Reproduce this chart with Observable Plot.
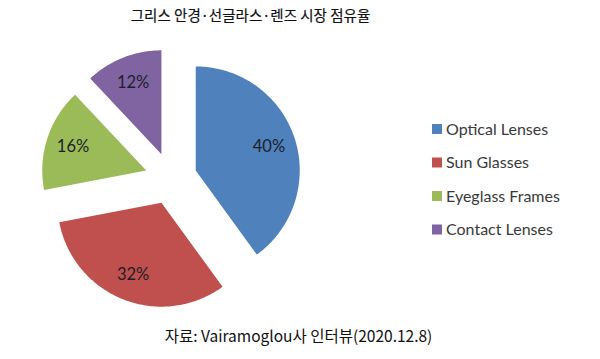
<!DOCTYPE html>
<html>
<head>
<meta charset="utf-8">
<script src="https://cdn.jsdelivr.net/npm/d3@7"></script>
<script src="https://cdn.jsdelivr.net/npm/@observablehq/plot@0.6"></script>
<style>
  html, body { margin: 0; padding: 0; background: #fff; }
  #chart svg { display: block; }
</style>
</head>
<body>
<div id="chart"></div>
<script>
// ---- data ----
const categories = ["Optical Lenses", "Sun Glasses", "Eyeglass Frames", "Contact Lenses"];
const shares = [40, 32, 16, 12];
const labels = ["40%", "32%", "16%", "12%"];
const colors = ["#4F81BD", "#C0504D", "#9BBB59", "#8064A2"];
const title = "그리스 안경·선글라스·렌즈 시장 점유율";
const caption = "자료: Vairamoglou사 인터뷰(2020.12.8)";

// ---- layout ----
const W = 600, H = 359;
const cx = 170.5, cy = 178, R = 104, explode = 26, labelDist = 77;

const total = d3.sum(shares);
const slices = [];
let acc = 0;
categories.forEach((c, i) => {
  const a0 = acc / total * 2 * Math.PI;
  acc += shares[i];
  const a1 = acc / total * 2 * Math.PI;
  const am = (a0 + a1) / 2;
  slices.push({cat: c, i, a0, a1, am,
    ox: cx + explode * Math.sin(am), oy: cy - explode * Math.cos(am)});
});

// polygon points for each wedge
const pts = [];
for (const s of slices) {
  pts.push({cat: s.cat, x: s.ox, y: s.oy});
  const n = Math.max(2, Math.ceil((s.a1 - s.a0) / (Math.PI / 180)));
  for (let k = 0; k <= n; k++) {
    const a = s.a0 + (s.a1 - s.a0) * k / n;
    pts.push({cat: s.cat, x: s.ox + R * Math.sin(a), y: s.oy - R * Math.cos(a)});
  }
  pts.push({cat: s.cat, x: s.ox, y: s.oy});
}

const labelPts = slices.map(s => ({
  text: labels[s.i],
  x: s.ox + labelDist * Math.sin(s.am),
  y: s.oy - labelDist * Math.cos(s.am)
}));

const legX = 432, legY0 = 129, legStep = 33.5, sq = 10;
const legend = categories.map((c, i) => ({cat: c, y: legY0 + i * legStep}));

const chart = Plot.plot({
  width: W, height: H,
  margin: 0,
  x: {domain: [0, W], range: [0, W], axis: null},
  y: {domain: [0, H], range: [0, H], axis: null},
  color: {domain: categories, range: colors},
  style: {background: "#fff"},
  marks: [
    Plot.line(pts, {x: "x", y: "y", z: "cat", fill: "cat", stroke: "none", curve: "linear"}),
    Plot.text(labelPts, {x: "x", y: "y", text: "text", fill: "#1c1e2a",
      fontSize: 16.5, fontFamily: "Lato, 'Open Sans', sans-serif"}),
    Plot.rect(legend, {x1: legX, x2: legX + sq, y1: d => d.y - sq / 2, y2: d => d.y + sq / 2, fill: "cat"}),
    Plot.text(legend, {x: legX + sq + 3.5, y: "y", text: "cat", textAnchor: "start",
      fill: "#3a3a3a", fontSize: 16, fontFamily: "Lato, 'Open Sans', sans-serif"}),
    Plot.text([title], {x: 250, y: 16, text: d => d, fill: "#111",
      fontSize: 14.5, fontFamily: "'Noto Sans CJK KR', sans-serif"}),
    Plot.text([title], {x: 250, y: 16, text: d => d, fill: "none", stroke: "#111", strokeWidth: 0.2,
      fontSize: 14.5, fontFamily: "'Noto Sans CJK KR', sans-serif"}),
    Plot.text([caption], {x: 298, y: 337, text: d => d, fill: "#111",
      fontSize: 15.5, fontFamily: "'Noto Sans CJK KR', sans-serif"})
  ]
});
document.getElementById("chart").appendChild(chart);
</script>
</body>
</html>
